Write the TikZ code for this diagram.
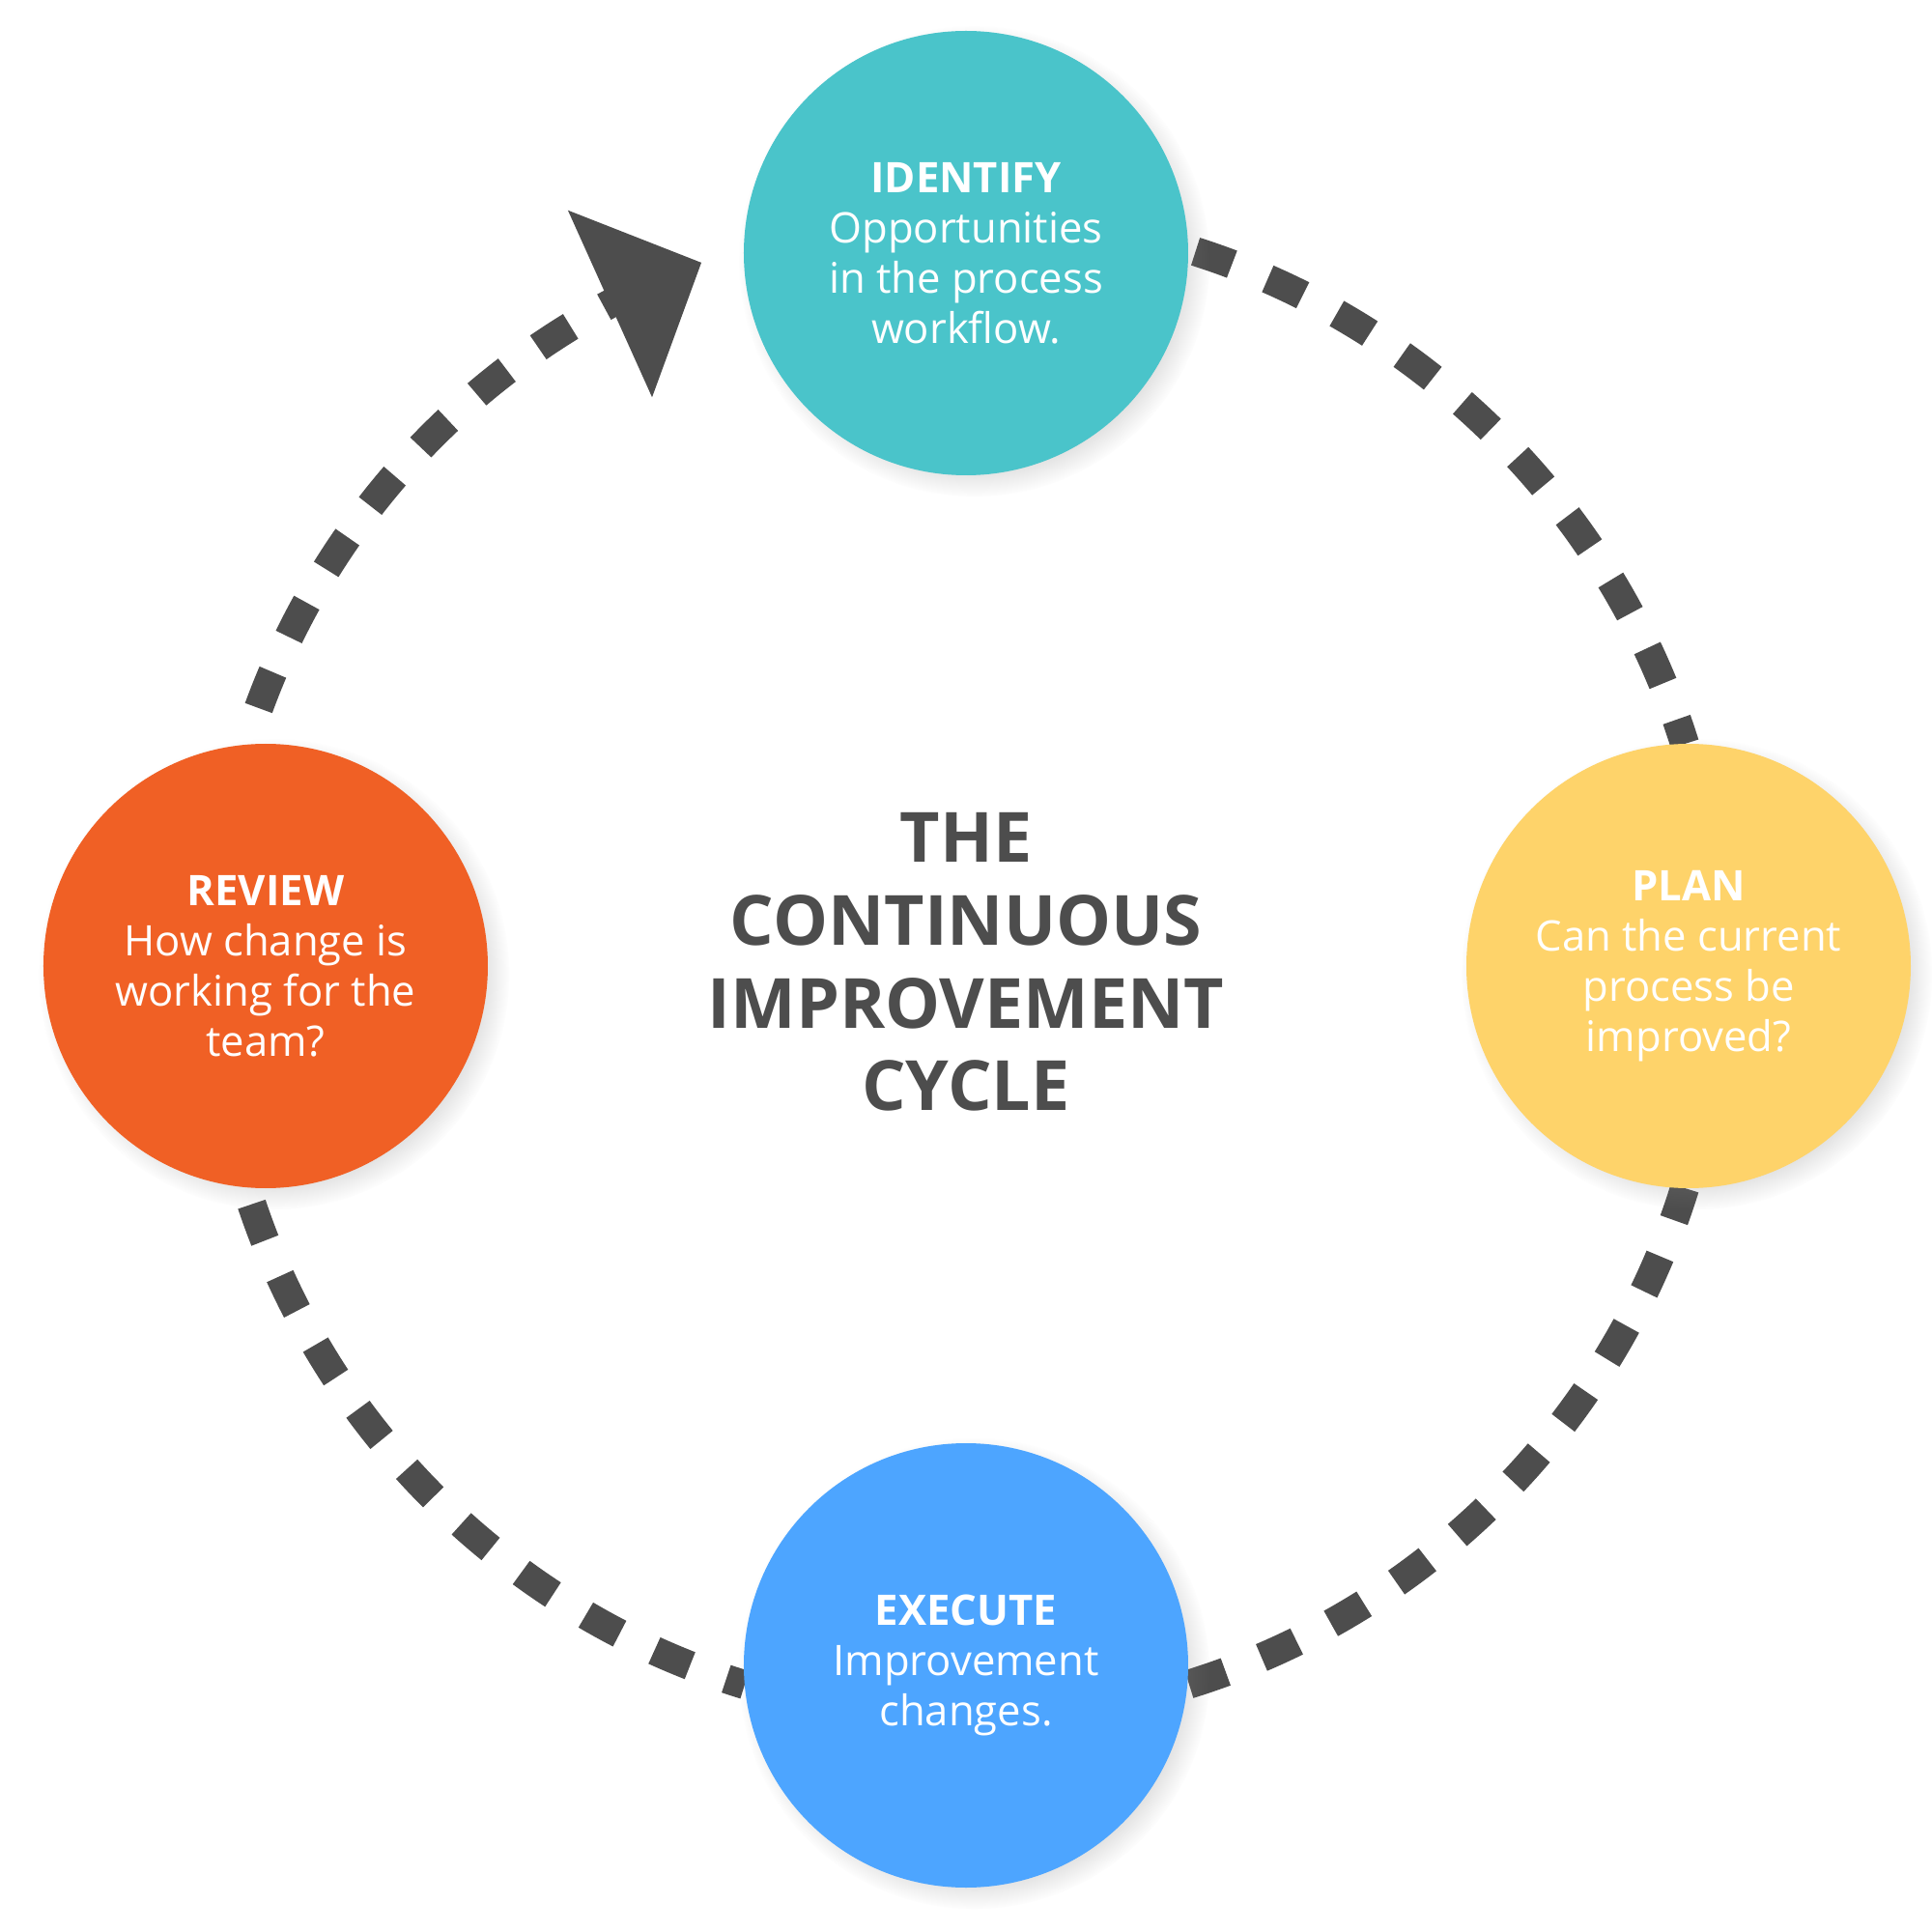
\documentclass[tikz,border=0pt]{standalone}
\usepackage{fontspec}
\setmainfont{Open Sans}
\usetikzlibrary{arrows.meta,bending,shadows,backgrounds,positioning}
\definecolor{CycTeal}{RGB}{74,196,202}
\definecolor{CycYellow}{RGB}{254,211,106}
\definecolor{CycBlue}{RGB}{77,165,255}
\definecolor{CycOrange}{RGB}{240,96,37}
\definecolor{CycDark}{RGB}{77,77,77}
\tikzset{
  cyc/stage/.style={
    circle,
    fill=#1,
    draw=none,
    minimum size=4.6cm,
    inner sep=0pt,
    outer sep=0pt,
    align=center,
    text=white,
    font=\fontsize{12.4}{14.8}\selectfont,
    circular drop shadow={shadow scale=1.06, shadow xshift=0.08cm, shadow yshift=-0.08cm, opacity=0.3}
  },
  cyc/link/.style={
    draw=CycDark,
    line width=0.3cm,
    dash pattern=on 0.4cm off 0.4cm,
    bend left=#1,
    looseness=0.9
  },
  cyc/arrow/.style={-{Triangle[length=1.04cm,width=2.06cm]}},
  cyc/title/.style={
    font=\fontsize{20.4}{24.4}\selectfont\bfseries,
    text=CycDark,
    align=center,
    inner sep=0pt
  }
}
\begin{document}
\begin{tikzpicture}[x=1cm,y=1cm]
  \node[cyc/stage=CycTeal] (identify) at (0,7.38) {\textbf{IDENTIFY}\\Opportunities\\in the process\\workflow.};
  \node[cyc/stage=CycYellow] (plan) at (7.48,0) {\textbf{PLAN}\\Can the current\\process be\\improved?};
  \node[cyc/stage=CycBlue] (execute) at (0,-7.24) {\textbf{EXECUTE}\\Improvement\\changes.};
  \node[cyc/stage=CycOrange] (review) at (-7.25,0) {\textbf{REVIEW}\\How change is\\working for the\\team?};
  \node[cyc/title] (title) at (0,0.04) {THE\\CONTINUOUS\\IMPROVEMENT\\CYCLE};
  \coordinate (tip) at (110.6:7.78);
  \begin{scope}[on background layer]
    \path[use as bounding box, fill=white] (-10,-10) rectangle (10,10);
    \draw[cyc/link=27.8, dash phase=0.72cm] (identify.1) to (plan.91);
    \draw[cyc/link=27.85, dash phase=0.05cm] (plan.-91) to (execute.-5);
    \draw[cyc/link=27.9, dash phase=0.2cm] (execute.185) to (review.-95);
    \draw[cyc/link=26.15, cyc/arrow, dash phase=0.4cm] (review.95) to (tip);
  \end{scope}
\end{tikzpicture}
\end{document}
